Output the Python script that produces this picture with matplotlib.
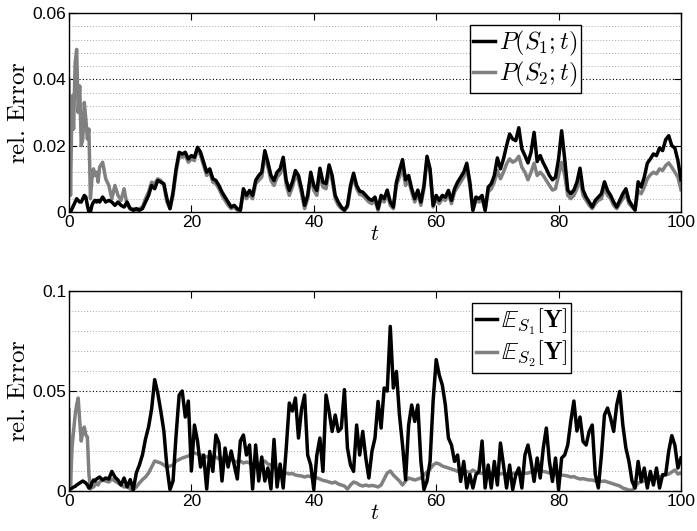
import numpy as np
import matplotlib
matplotlib.use("Agg")
import matplotlib.pyplot as plt
from matplotlib.ticker import MultipleLocator, FixedLocator, FixedFormatter

plt.rcParams['mathtext.fontset'] = 'cm'
plt.rcParams['font.family'] = ['Liberation Sans', 'DejaVu Sans']

# time grid (fine at start, then every 0.5)
t = np.concatenate([np.arange(0, 5, 0.25), np.arange(5, 100.01, 0.5)])

p_s1 = [0.000,0.000,0.001,0.002,0.003,0.004,0.0035,0.003,0.003,0.004,0.005,0.0045,0.002,0.000,0.000,0.002,0.003,0.0035,0.003,0.0035,
        0.003,0.0045,0.003,0.0035,0.003,0.002,0.003,0.002,0.0015,0.003,
        0.001,0.0005,0.001,0.0005,0.001,0.003,0.005,0.008,0.007,0.0095,
        0.009,0.0085,0.004,0.001,0.006,0.013,0.018,0.0175,0.018,0.016,
        0.017,0.0165,0.0195,0.018,0.015,0.012,0.013,0.010,0.0095,0.008,
        0.006,0.0045,0.003,0.0015,0.002,0.001,0.0005,0.007,0.005,0.0065,
        0.005,0.0095,0.011,0.012,0.0185,0.015,0.011,0.0095,0.012,0.013,
        0.0165,0.0095,0.0065,0.009,0.0125,0.011,0.007,0.002,0.005,0.012,
        0.008,0.0065,0.0132,0.009,0.0085,0.0142,0.011,0.005,0.003,0.0015,
        0.0005,0.002,0.008,0.0117,0.008,0.0063,0.006,0.005,0.004,0.0035,
        0.0045,0.001,0.005,0.004,0.0066,0.003,0.0015,0.009,0.0125,0.0158,
        0.0097,0.011,0.007,0.004,0.0066,0.003,0.008,0.0168,0.013,0.002,
        0.005,0.0035,0.005,0.0045,0.0065,0.0035,0.007,0.009,0.0105,0.012,
        0.0147,0.009,0.0005,0.0045,0.004,0.005,0.0005,0.0075,0.0085,0.011,
        0.0163,0.013,0.016,0.020,0.0235,0.022,0.0215,0.0254,0.019,0.017,
        0.0148,0.018,0.024,0.0152,0.017,0.0148,0.013,0.011,0.0097,0.0105,
        0.016,0.0245,0.016,0.0066,0.0055,0.0066,0.009,0.0132,0.0066,0.0045,
        0.003,0.0015,0.0035,0.0045,0.0055,0.0091,0.0065,0.005,0.003,0.0015,
        0.0035,0.0055,0.007,0.0035,0.002,0.0006,0.0091,0.0075,0.0105,0.0147,
        0.016,0.0175,0.017,0.0193,0.0185,0.0218,0.023,0.020,0.0193,0.0155,
        0.0097]

p_s2 = [0.040,0.005,0.035,0.025,0.045,0.049,0.030,0.038,0.020,0.022,0.033,0.028,0.022,0.025,0.004,0.010,0.013,0.011,0.012,0.009,
        0.0135,0.015,0.010,0.008,0.004,0.008,0.005,0.0035,0.007,0.002,
        0.001,0.001,0.0005,0.001,0.0015,0.004,0.006,0.009,0.0085,0.010,
        0.0095,0.008,0.003,0.001,0.005,0.012,0.017,0.0165,0.017,0.015,
        0.016,0.0155,0.019,0.017,0.014,0.011,0.012,0.009,0.0085,0.007,
        0.005,0.0035,0.002,0.001,0.0015,0.0005,0.0005,0.006,0.004,0.0055,
        0.004,0.0085,0.0095,0.0105,0.017,0.0135,0.0095,0.008,0.0105,0.0115,
        0.015,0.008,0.005,0.0075,0.011,0.0095,0.0055,0.001,0.004,0.0105,
        0.0065,0.005,0.0115,0.0075,0.007,0.0125,0.0095,0.004,0.002,0.001,
        0.0005,0.0015,0.007,0.0105,0.007,0.0053,0.005,0.004,0.003,0.0025,
        0.0035,0.0005,0.004,0.003,0.0055,0.002,0.001,0.008,0.0105,0.0135,
        0.008,0.0095,0.006,0.003,0.0055,0.002,0.007,0.0155,0.012,0.0015,
        0.004,0.0025,0.004,0.0035,0.0055,0.0025,0.006,0.0075,0.009,0.0105,
        0.013,0.008,0.0005,0.0035,0.003,0.004,0.0005,0.006,0.007,0.009,
        0.0125,0.010,0.012,0.0145,0.016,0.015,0.0155,0.0168,0.0135,0.012,
        0.0097,0.012,0.0147,0.011,0.012,0.011,0.0095,0.008,0.0066,0.007,
        0.011,0.015,0.011,0.005,0.004,0.005,0.007,0.010,0.005,0.0035,
        0.002,0.001,0.0025,0.0035,0.004,0.0075,0.005,0.004,0.002,0.001,
        0.0025,0.004,0.0055,0.0025,0.0015,0.0005,0.0065,0.0055,0.0075,0.010,
        0.0112,0.012,0.0115,0.013,0.0125,0.014,0.0148,0.0135,0.012,0.0105,
        0.0067]

e_s1 = [0.0005,0.001,0.0015,0.002,0.0023,0.003,0.0035,0.004,0.0045,0.005,0.0045,0.004,0.003,0.0015,0.002,0.004,0.0055,0.005,0.006,0.0065,
        0.007,0.0055,0.0065,0.006,0.0098,0.007,0.0055,0.003,0.0065,0.002,
        0.0057,0.0007,0.009,0.013,0.018,0.026,0.032,0.041,0.0557,0.049,
        0.040,0.030,0.012,0.0007,0.005,0.028,0.048,0.050,0.037,0.045,
        0.010,0.033,0.025,0.012,0.018,0.001,0.0198,0.0098,0.028,0.024,
        0.005,0.0215,0.012,0.020,0.013,0.006,0.025,0.028,0.018,0.023,
        0.001,0.023,0.005,0.017,0.005,0.0115,0.001,0.0258,0.002,0.0135,
        0.0015,0.0215,0.044,0.040,0.0465,0.0265,0.041,0.048,0.018,0.013,
        0.0007,0.018,0.0265,0.0098,0.048,0.0398,0.0298,0.038,0.0298,0.0315,
        0.0507,0.0215,0.013,0.0098,0.033,0.018,0.0298,0.0165,0.0065,0.0198,
        0.0265,0.0448,0.0315,0.0515,0.050,0.0823,0.0515,0.0598,0.038,0.023,
        0.0057,0.033,0.043,0.0348,0.043,0.0148,0.0007,0.005,0.0148,0.045,
        0.0657,0.058,0.053,0.043,0.0265,0.023,0.0148,0.018,0.0048,0.0148,
        0.0015,0.0082,0.0015,0.0082,0.0098,0.025,0.0015,0.013,0.0015,0.0148,
        0.003,0.024,0.013,0.0015,0.013,0.0007,0.008,0.0115,0.0015,0.018,
        0.023,0.0148,0.0048,0.0165,0.0065,0.0215,0.0315,0.0148,0.0048,0.0165,
        0.0007,0.0165,0.018,0.023,0.035,0.045,0.030,0.037,0.0248,0.023,
        0.0298,0.033,0.0082,0.0015,0.018,0.038,0.0415,0.0365,0.0298,0.043,
        0.0498,0.033,0.0215,0.0148,0.005,0.0015,0.0148,0.0048,0.0115,0.0015,
        0.0098,0.003,0.0115,0.0015,0.0082,0.0082,0.020,0.0277,0.023,0.0115,
        0.0165]

e_s2 = [0.0407,0.003,0.022,0.030,0.038,0.043,0.0465,0.035,0.025,0.030,0.032,0.028,0.027,0.0087,0.001,0.002,0.002,0.003,0.004,0.003,
        0.0045,0.0055,0.005,0.0045,0.006,0.005,0.004,0.003,0.002,0.0025,
        0.001,0.0007,0.002,0.004,0.0057,0.007,0.009,0.012,0.015,0.0145,
        0.014,0.013,0.012,0.0125,0.013,0.015,0.0157,0.0165,0.017,0.0175,
        0.0188,0.019,0.0185,0.018,0.0175,0.017,0.0175,0.017,0.017,0.016,
        0.0165,0.0155,0.016,0.0155,0.015,0.0145,0.015,0.014,0.0145,0.014,
        0.0135,0.014,0.0135,0.0145,0.015,0.0135,0.013,0.012,0.011,0.0105,
        0.0095,0.009,0.0085,0.0088,0.008,0.0077,0.0075,0.007,0.0075,0.0072,
        0.0068,0.0066,0.006,0.0053,0.005,0.0045,0.004,0.0045,0.0035,0.003,
        0.0025,0.001,0.003,0.0045,0.004,0.003,0.0025,0.003,0.0025,0.0028,
        0.0025,0.002,0.003,0.006,0.009,0.010,0.008,0.0065,0.005,0.003,
        0.005,0.0065,0.006,0.0055,0.006,0.0065,0.008,0.0095,0.011,0.013,
        0.014,0.0135,0.0125,0.012,0.0115,0.011,0.0105,0.0098,0.0102,0.0095,
        0.0098,0.0092,0.0105,0.0095,0.009,0.0088,0.0092,0.0095,0.009,0.0088,
        0.009,0.0085,0.0088,0.0085,0.0082,0.0088,0.009,0.0085,0.0092,0.0088,
        0.009,0.0095,0.0098,0.0105,0.010,0.0098,0.0095,0.009,0.0088,0.0085,
        0.0082,0.008,0.0078,0.0075,0.007,0.0072,0.0065,0.006,0.0062,0.0058,
        0.0055,0.0055,0.005,0.0052,0.0048,0.005,0.0045,0.004,0.0035,0.003,
        0.0025,0.0015,0.001,0.0005,0.0003,0.002,0.004,0.0045,0.005,0.0055,
        0.006,0.0062,0.0065,0.007,0.0075,0.008,0.0085,0.0095,0.0105,0.0085,
        0.009]

x_ticks = [0, 20, 40, 60, 80, 100]
top_yticks = [0, 0.02, 0.04, 0.06]
top_ylabels = ['0', '0.02', '0.04', '0.06']
bot_yticks = [0, 0.05, 0.1]
bot_ylabels = ['0', '0.05', '0.1']

fig = plt.figure(figsize=(6.97, 5.31), dpi=100)
ax1 = fig.add_axes([0.099, 0.6008, 0.878, 0.3747])
ax2 = fig.add_axes([0.099, 0.0753, 0.878, 0.3766])

def style(ax, yticks, ylabels, ymax, minor_step):
    ax.set_xlim(0, 100)
    ax.set_ylim(0, ymax)
    ax.xaxis.set_major_locator(FixedLocator(x_ticks))
    ax.set_xticklabels([str(v) for v in x_ticks])
    ax.yaxis.set_major_locator(FixedLocator(yticks))
    ax.yaxis.set_major_formatter(FixedFormatter(ylabels))
    ax.yaxis.set_minor_locator(MultipleLocator(minor_step))
    ax.tick_params(which='major', direction='in', top=True, right=True,
                   length=5, width=0.8, labelsize=12.5, pad=2)
    ax.tick_params(which='minor', length=0)
    ax.grid(True, which='major', axis='y', color='black', linestyle=(0, (1, 2)), linewidth=0.8)
    ax.grid(True, which='minor', axis='y', color='0.65', linestyle=(0, (1, 2)), linewidth=0.7)
    ax.set_axisbelow(True)
    for s in ax.spines.values():
        s.set_linewidth(1.0)
        s.set_color('black')
    ax.set_ylabel(r'$\mathrm{rel.\,Error}$', fontsize=18, labelpad=2)
    ax.set_xlabel(r'$t$', fontsize=16, labelpad=-4)

g2, = ax1.plot(t, p_s2, color='0.5', lw=2.5)
g1, = ax1.plot(t, p_s1, color='black', lw=2.5)
style(ax1, top_yticks, top_ylabels, 0.06, 0.004)
ax1.legend([g1, g2], [r'$P(S_1;t)$', r'$P(S_2;t)$'], loc='upper left',
           bbox_to_anchor=(0.674, 0.953), bbox_transform=fig.transFigure,
           fontsize=17.5, handlelength=0.9, handletextpad=0.15, borderpad=0.15,
           labelspacing=0.1, borderaxespad=0, fancybox=False,
           edgecolor='black', framealpha=1).get_frame().set_linewidth(1.0)

h2, = ax2.plot(t, e_s2, color='0.5', lw=2.5)
h1, = ax2.plot(t, e_s1, color='black', lw=2.5)
style(ax2, bot_yticks, bot_ylabels, 0.1, 0.01)
ax2.legend([h1, h2], [r'$\mathbb{E}_{S_1}[\mathbf{Y}]$', r'$\mathbb{E}_{S_2}[\mathbf{Y}]$'],
           loc='upper left', bbox_to_anchor=(0.677, 0.429), bbox_transform=fig.transFigure,
           fontsize=17.5, handlelength=0.9, handletextpad=0.15, borderpad=0.15,
           labelspacing=0.1, borderaxespad=0, fancybox=False,
           edgecolor='black', framealpha=1).get_frame().set_linewidth(1.0)

fig.savefig('out.png', dpi=100)
